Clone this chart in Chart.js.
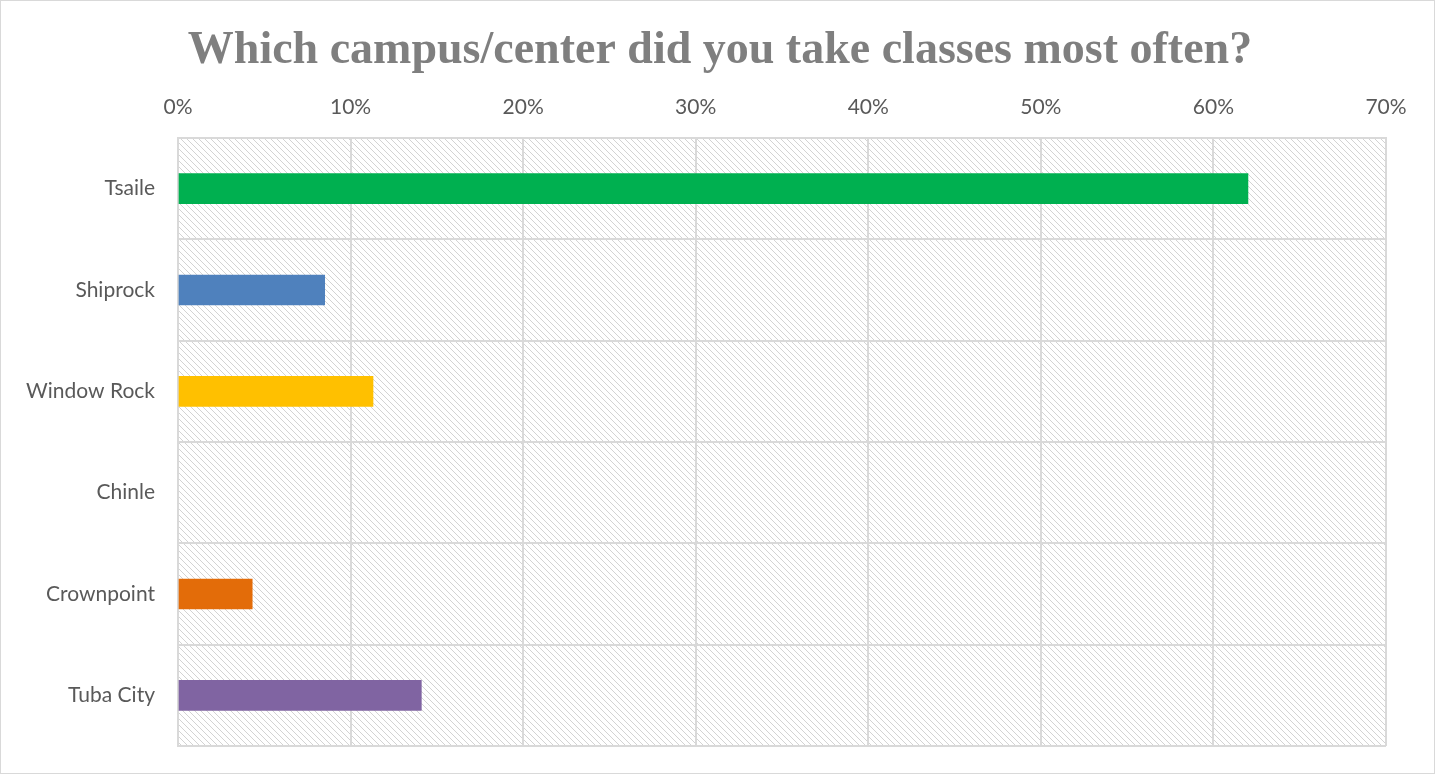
<!DOCTYPE html>
<html>
<head>
<meta charset="utf-8">
<script src="https://cdn.jsdelivr.net/npm/chart.js@4/dist/chart.umd.min.js"></script>
<style>
  html, body { margin: 0; padding: 0; background: #fff; overflow: hidden; }
  #wrap { position: relative; width: 1436px; height: 775px; }
  #bars { display: block; }
</style>
</head>
<body>
<div id="wrap"><canvas id="bars"></canvas></div>
<script>
var chartTitle = 'Which campus/center did you take classes most often?';
var campuses = ['Tsaile', 'Shiprock', 'Window Rock', 'Chinle', 'Crownpoint', 'Tuba City'];
var shares = [62, 8.5, 11.3, 0, 4.3, 14.1];
var barColors = ['#00b050', '#4f81bd', '#ffc000', 'rgba(0,0,0,0)', '#e36c09', '#8064a2'];
var tickMax = 70;
var tickStep = 10;

// diagonal hatch used for the plot background
function makeHatch(g0) {
    var c = document.createElement('canvas');
    c.width = 6; c.height = 6;
    var g = c.getContext('2d');
    g.fillStyle = '#d3d3d3';
    for (var i = 0; i < 6; i++) {
        g.fillRect(i, i, 1, 1);
    }
    return g0.createPattern(c, 'repeat');
}

var plotBackground = {
    id: 'plotBackground',
    beforeDraw: function(chart) {
        var ctx = chart.ctx, a = chart.chartArea;
        ctx.save();
        ctx.fillStyle = '#fff';
        ctx.fillRect(0, 0, chart.width, chart.height);
        ctx.fillStyle = makeHatch(ctx);
        ctx.fillRect(a.left, a.top, a.right - a.left, a.bottom - a.top);
        ctx.strokeStyle = '#d9d9d9';
        ctx.lineWidth = 1;
        ctx.strokeRect(0.5, 0.5, chart.width - 2, chart.height - 2);
        ctx.restore();
    },
    afterDraw: function(chart) {
        // title centred on the whole canvas, not on the padded box
        var ctx = chart.ctx;
        ctx.save();
        ctx.fillStyle = '#7f7f7f';
        ctx.font = 'bold 46px "Liberation Serif", serif';
        ctx.textAlign = 'center';
        ctx.textBaseline = 'alphabetic';
        ctx.fillText(chartTitle, chart.width / 2 + 2, 63);
        ctx.restore();
    }
};

var ctx = document.getElementById('bars');
var myChart = new Chart(ctx.getContext('2d'), {
    type: 'bar',
    data: {
        labels: campuses,
        datasets: [{
            label: 'Campus',
            data: shares,
            backgroundColor: barColors,
            borderWidth: 0,
            barThickness: 30
        }]
    },
    options: {
        indexAxis: 'y',
        responsive: true,
        maintainAspectRatio: false,
        animation: false,
        layout: {
            padding: { left: 0, right: 50, top: 72, bottom: 29 }
        },
        plugins: {
            legend: { display: false },
            tooltip: { enabled: false },
            title: { display: false }
        },
        scales: {
            x: {
                position: 'top',
                min: 0,
                max: tickMax,
                ticks: {
                    stepSize: tickStep,
                    color: '#595959',
                    padding: 18,
                    font: { family: 'Lato, sans-serif', size: 21 },
                    callback: function(v) { return v + '%'; }
                },
                grid: { color: '#d9d9d9', lineWidth: 2, drawTicks: false },
                border: { display: true, color: '#d9d9d9', width: 2 },
                afterFit: function(scale) { scale.height = 66; }
            },
            y: {
                ticks: {
                    color: '#595959',
                    padding: 23,
                    font: { family: 'Lato, sans-serif', size: 21 }
                },
                grid: { color: '#d9d9d9', lineWidth: 2, drawTicks: false },
                border: { display: true, color: '#d9d9d9', width: 2 },
                afterFit: function(scale) {
                    scale.width = 178;
                    // labels sit inside the rows, no extra room needed above/below
                    scale.paddingTop = 0;
                    scale.paddingBottom = 0;
                }
            }
        }
    },
    plugins: [plotBackground]
});
</script>
</body>
</html>
